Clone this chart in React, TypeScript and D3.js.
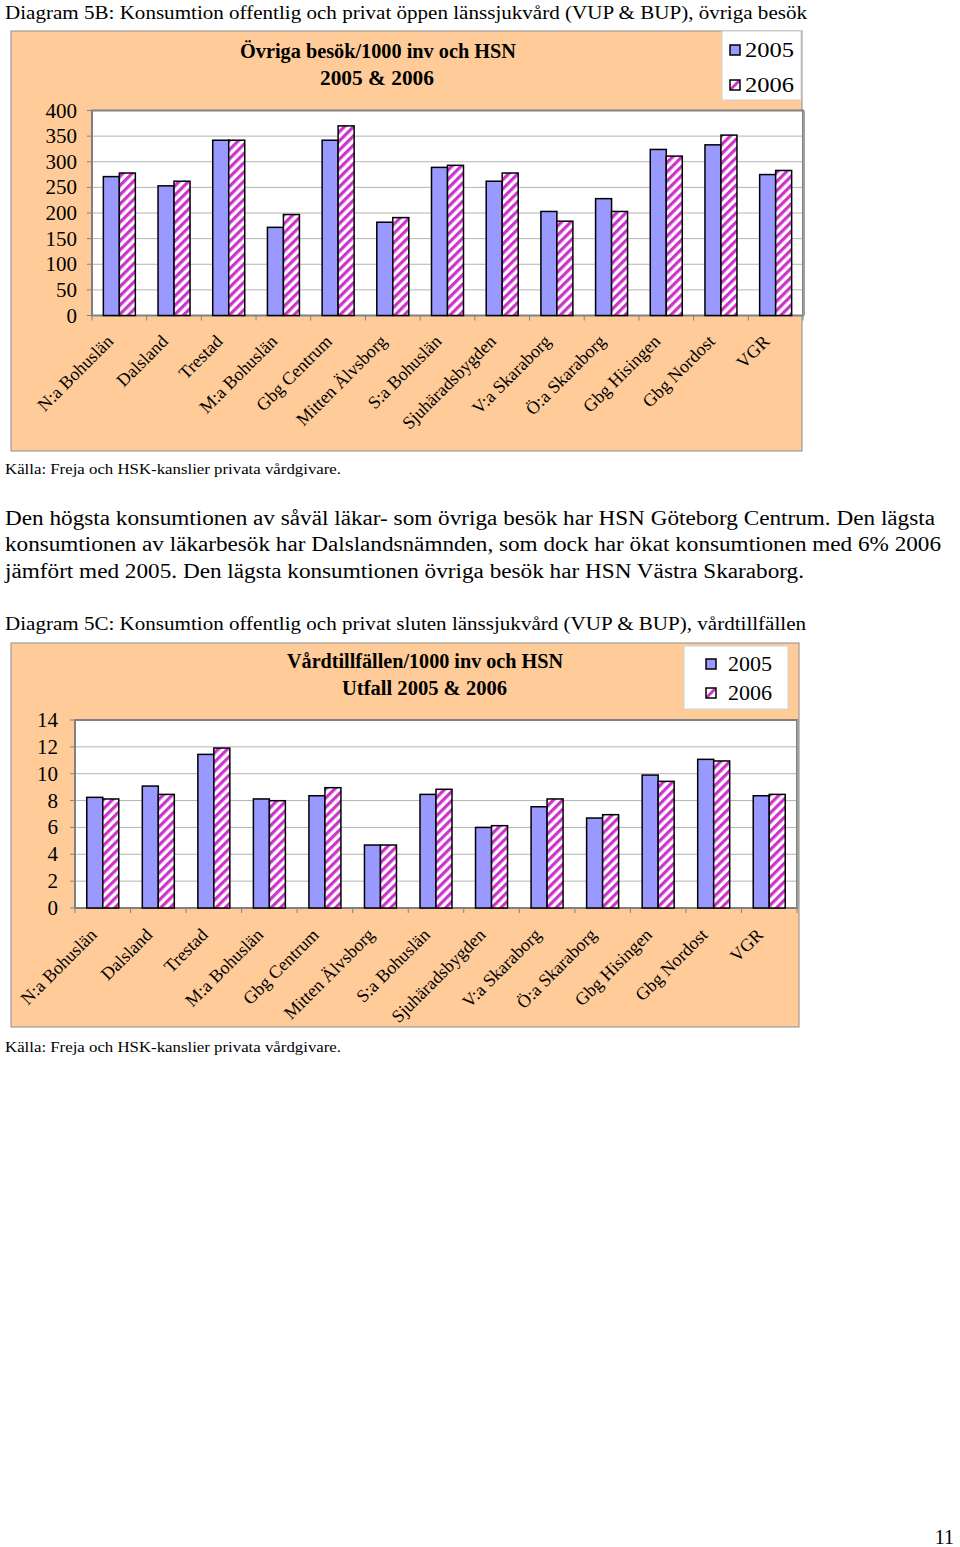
import React from "react";
import * as d3 from "d3";

const categories = [
  "N:a Bohuslän",
  "Dalsland",
  "Trestad",
  "M:a Bohuslän",
  "Gbg Centrum",
  "Mitten Älvsborg",
  "S:a Bohuslän",
  "Sjuhäradsbygden",
  "V:a Skaraborg",
  "Ö:a Skaraborg",
  "Gbg Hisingen",
  "Gbg Nordost",
  "VGR",
];
const seriesNames = ["2005", "2006"];

const ovriga2005 = [271, 253, 342, 172, 342, 182, 289, 262, 203, 228, 324, 333, 275];
const ovriga2006 = [278, 262, 342, 197, 370, 191, 293, 278, 184, 203, 311, 352, 283];
const ovrigaTicks = [0, 50, 100, 150, 200, 250, 300, 350, 400];

const vard2005 = [8.24, 9.08, 11.44, 8.12, 8.36, 4.69, 8.46, 6.0, 7.54, 6.7, 9.9, 11.07, 8.36];
const vard2006 = [8.12, 8.46, 11.91, 7.99, 8.96, 4.69, 8.84, 6.13, 8.12, 6.95, 9.43, 10.95, 8.46];
const vardTicks = [0, 2, 4, 6, 8, 10, 12, 14];

const SERIF = "'Times New Roman', 'Liberation Serif', Times, serif";
const BLUE = "#9999FF";
const MAGENTA = "#CC33CC";
const PEACH = "#FFCC99";

type ChartProps = {
  frame: { x: number; y: number; w: number; h: number };
  plot: { x0: number; x1: number; top: number; bottom: number };
  max: number;
  ticks: number[];
  a: number[];
  b: number[];
  tickRight: number;
  title: { text: string; x: number; y: number; len: number }[];
  legend: { x: number; y: number; w: number; h: number; sx: number; tx: number; ys: number[]; tlen: number; fs: number };
  label: { dx: number; dy: number };
};

function BarChart(p: ChartProps) {
  const x = d3
    .scaleBand<string>()
    .domain(categories)
    .range([p.plot.x0, p.plot.x1])
    .paddingInner(0)
    .paddingOuter(0);
  const y = d3.scaleLinear().domain([0, p.max]).range([p.plot.bottom, p.plot.top]);
  const bw = x.bandwidth();
  const barW = 16;
  const off = (bw - 2 * barW) / 2;

  return (
    <g>
      <rect x={p.frame.x} y={p.frame.y} width={p.frame.w} height={p.frame.h} fill={PEACH} stroke="#8c8c8c" strokeWidth={1} />
      {p.title.map((t, i) => (
        <text
          key={i}
          x={t.x}
          y={t.y}
          fontFamily={SERIF}
          fontWeight="bold"
          fontSize={20}
          textLength={t.len}
          lengthAdjust="spacingAndGlyphs"
          fill="#000"
        >
          {t.text}
        </text>
      ))}
      <rect
        x={p.plot.x0}
        y={p.plot.top}
        width={p.plot.x1 - p.plot.x0}
        height={p.plot.bottom - p.plot.top}
        fill="#fff"
      />
      {p.ticks.map((t) => (
        <line key={"g" + t} x1={p.plot.x0} x2={p.plot.x1} y1={y(t)} y2={y(t)} stroke="#b4b4b4" strokeWidth={1} />
      ))}
      <rect
        x={p.plot.x0}
        y={p.plot.top}
        width={p.plot.x1 - p.plot.x0}
        height={p.plot.bottom - p.plot.top}
        fill="none"
        stroke="#808080"
        strokeWidth={2}
      />
      <line
        x1={p.plot.x1 + 1}
        x2={p.plot.x1 + 1}
        y1={p.plot.top}
        y2={p.plot.bottom}
        stroke="#a0a0a0"
        strokeWidth={2}
      />
      {p.ticks.map((t) => (
        <g key={"t" + t}>
          <line x1={p.plot.x0 - 5} x2={p.plot.x0} y1={y(t)} y2={y(t)} stroke="#808080" strokeWidth={1} />
          <text x={p.tickRight} y={y(t) + 7} textAnchor="end" fontFamily={SERIF} fontSize={21} fill="#000">
            {t}
          </text>
        </g>
      ))}
      {categories.map((c) => (
        <line
          key={"xt" + c}
          x1={x(c)!}
          x2={x(c)!}
          y1={p.plot.bottom}
          y2={p.plot.bottom + 5}
          stroke="#808080"
          strokeWidth={1}
        />
      ))}
      <line x1={p.plot.x1} x2={p.plot.x1} y1={p.plot.bottom} y2={p.plot.bottom + 5} stroke="#808080" />
      {categories.map((c, i) => (
        <g key={"b" + c}>
          <rect
            x={x(c)! + off}
            y={y(p.a[i])}
            width={barW}
            height={y(0) - y(p.a[i])}
            fill={BLUE}
            stroke="#000"
            strokeWidth={1.5}
          />
          <rect
            x={x(c)! + off + barW}
            y={y(p.b[i])}
            width={barW}
            height={y(0) - y(p.b[i])}
            fill="url(#hatch)"
            stroke="#000"
            strokeWidth={1.5}
          />
        </g>
      ))}
      {categories.map((c) => {
        const cx = x(c)! + bw / 2 + p.label.dx;
        const cy = p.plot.bottom + p.label.dy;
        return (
          <text
            key={"l" + c}
            transform={`translate(${cx},${cy}) rotate(-45)`}
            textAnchor="end"
            fontFamily={SERIF}
            fontSize={18}
            fill="#000"
          >
            {c}
          </text>
        );
      })}
      <rect x={p.legend.x} y={p.legend.y} width={p.legend.w} height={p.legend.h} fill="#fff" stroke="#d0d0d0" strokeWidth={1} />
      {seriesNames.map((s, i) => (
        <g key={"lg" + s}>
          <rect
            x={p.legend.sx}
            y={p.legend.ys[i] - 12}
            width={10}
            height={10}
            fill={i === 0 ? BLUE : "url(#hatchLegend)"}
            stroke="#000"
            strokeWidth={1.5}
          />
          <text
            x={p.legend.tx}
            y={p.legend.ys[i]}
            fontFamily={SERIF}
            fontSize={p.legend.fs}
            textLength={p.legend.tlen}
            lengthAdjust="spacingAndGlyphs"
            fill="#000"
          >
            {s}
          </text>
        </g>
      ))}
    </g>
  );
}

export default function App() {
  const txt = (s: string, xx: number, yy: number, fs: number, len?: number, anchor?: string) => (
    <text
      x={xx}
      y={yy}
      fontFamily={SERIF}
      fontSize={fs}
      fill="#000"
      textAnchor={anchor || "start"}
      {...(len ? { textLength: len, lengthAdjust: "spacingAndGlyphs" } : {})}
    >
      {s}
    </text>
  );
  return (
    <svg
      width={960}
      height={1547}
      style={{ position: "absolute", left: 0, top: 0, display: "block", background: "#fff" }}
    >
      <defs>
        <pattern id="hatch" width={6.5} height={6.5} patternUnits="userSpaceOnUse" patternTransform="rotate(45)">
          <rect width={6.5} height={6.5} fill="#fff" />
          <rect width={3.2} height={6.5} fill={MAGENTA} />
        </pattern>
        <pattern id="hatchLegend" width={1} height={1} patternUnits="objectBoundingBox" patternContentUnits="objectBoundingBox">
          <rect width={1} height={1} fill="#fff" />
          <polygon points="0,0.8 0.8,0 1,0 1,0.2 0.2,1 0,1" fill={MAGENTA} />
        </pattern>
      </defs>
      <rect width={960} height={1547} fill="#fff" />
      {txt("Diagram 5B: Konsumtion offentlig och privat öppen länssjukvård (VUP & BUP), övriga besök", 5, 19, 19.5, 802)}
      <BarChart
        frame={{ x: 11, y: 31, w: 791, h: 420 }}
        plot={{ x0: 92, x1: 803, top: 110.5, bottom: 315.5 }}
        max={400}
        ticks={ovrigaTicks}
        a={ovriga2005}
        b={ovriga2006}
        tickRight={77}
        title={[
          { text: "Övriga besök/1000 inv och HSN", x: 240, y: 58, len: 276 },
          { text: "2005 & 2006", x: 320, y: 85, len: 114 },
        ]}
        legend={{ x: 722, y: 31, w: 79, h: 69, sx: 730, tx: 745, ys: [57, 92], tlen: 49, fs: 21 }}
        label={{ dx: -5, dy: 27 }}
      />
      {txt("Källa: Freja och HSK-kanslier privata vårdgivare.", 5, 474, 15.5, 336)}
      {txt("Den högsta konsumtionen av såväl läkar- som övriga besök har HSN Göteborg Centrum. Den lägsta", 5, 525, 20.5, 930)}
      {txt("konsumtionen av läkarbesök har Dalslandsnämnden, som dock har ökat konsumtionen med 6% 2006", 5, 551, 20.5, 936)}
      {txt("jämfört med 2005. Den lägsta konsumtionen övriga besök har HSN Västra Skaraborg.", 5, 578, 20.5, 799)}
      {txt("Diagram 5C: Konsumtion offentlig och privat sluten länssjukvård (VUP & BUP), vårdtillfällen", 5, 630, 19.5, 801)}
      <BarChart
        frame={{ x: 11, y: 643, w: 788, h: 384 }}
        plot={{ x0: 75, x1: 797, top: 720, bottom: 908 }}
        max={14}
        ticks={vardTicks}
        a={vard2005}
        b={vard2006}
        tickRight={58}
        title={[
          { text: "Vårdtillfällen/1000 inv och HSN", x: 287, y: 668, len: 276 },
          { text: "Utfall 2005 & 2006", x: 342, y: 695, len: 165 },
        ]}
        legend={{ x: 684, y: 646, w: 104, h: 63, sx: 706, tx: 728, ys: [671, 700], tlen: 44, fs: 22 }}
        label={{ dx: -5, dy: 28 }}
      />
      {txt("Källa: Freja och HSK-kanslier privata vårdgivare.", 5, 1052, 15.5, 336)}
      {txt("11", 954, 1544, 20, undefined, "end")}
    </svg>
  );
}
